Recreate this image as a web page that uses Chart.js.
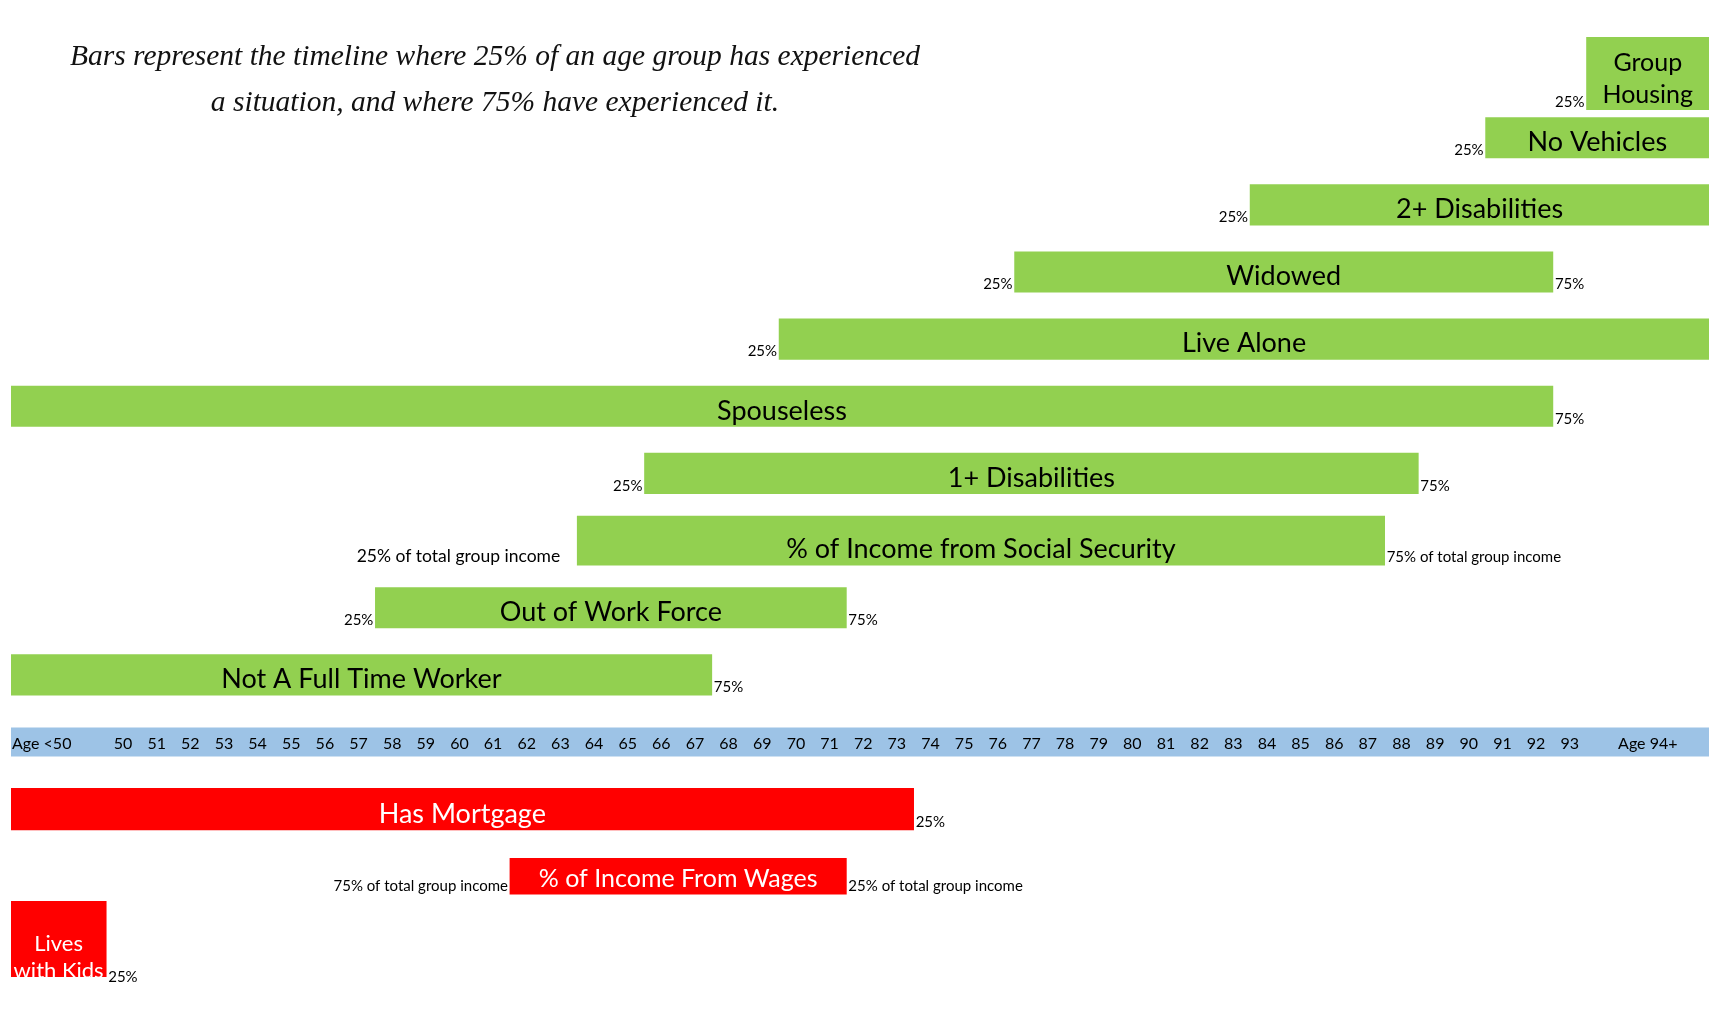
<!DOCTYPE html>
<html><head><meta charset="utf-8">
<script src="https://cdn.jsdelivr.net/npm/chart.js@4.4.1/dist/chart.umd.min.js"></script>
<style>
html,body{margin:0;padding:0;background:#fff;}
#wrap{position:relative;width:1717px;height:1016px;overflow:hidden;background:#fff;}
#c{position:absolute;left:0;top:0;}
#title{position:absolute;left:0;width:990px;top:32px;text-align:center;font-family:"Liberation Serif",serif;font-style:italic;font-size:29.5px;line-height:46px;color:#111;}
</style></head><body>
<div id="wrap"><canvas id="c" width="1717" height="1016"></canvas>
<div id="title">Bars represent the timeline where 25% of an age group has experienced<br>a situation, and where 75% have experienced it.</div></div>
<script>
// ---- age axis (tick labels) ----
const ageLabels = ['Age <50','50','51','52','53','54','55','56','57','58','59','60','61','62','63','64','65','66','67','68','69','70','71','72','73','74','75','76','77','78','79','80','81','82','83','84','85','86','87','88','89','90','91','92','93','Age 94+'];

// ---- situations that grow with age (green, above the axis) ----
const situations = ['Group Housing','No Vehicles','2+ Disabilities','Widowed','Live Alone','Spouseless','1+ Disabilities','% of Income from Social Security','Out of Work Force','Not A Full Time Worker'];
const situationStart = ['Age 94+','91','84','77','70','Age <50','66','64','58','Age <50'];
const situationEnd   = ['Age 94+','Age 94+','Age 94+','92','Age 94+','92','88','87','71','67'];
const situationStartNote = ['25%','25%','25%','25%','25%','','25%','25% of total group income','25%',''];
const situationEndNote   = ['','','','75%','','75%','75%','75% of total group income','75%','75%'];

// ---- situations that fade with age (red, below the axis) ----
const declines = ['Has Mortgage','% of Income From Wages','Lives with Kids'];
const declineStart = ['Age <50','62','Age <50'];
const declineEnd   = ['73','71','Age <50'];
const declineStartNote = ['','75% of total group income',''];
const declineEndNote   = ['25%','25% of total group income','25%'];

// ---- scale bounds of the open-ended bins ----
const AXIS_MIN = 47.17, AXIS_MAX = 97.64;
function cellStart(l){ if(l==='Age <50') return AXIS_MIN; if(l==='Age 94+') return 94; return Number(l); }
function cellEnd(l){ if(l==='Age <50') return 50; if(l==='Age 94+') return AXIS_MAX; return Number(l)+1; }

// ---- styles ----
const GREEN = '#92D050', RED = '#FF0000', BLUE = '#9DC3E6';
const AXIS_ROW = 'Age';
const wrapText = {'Group Housing':['Group','Housing'], 'Lives with Kids':['Lives','with Kids']};
const thickStyle = {'Group Housing':78, '% of Income from Social Security':49, 'Has Mortgage':41.6, '% of Income From Wages':36, 'Lives with Kids':84};
const fontStyle = {'Group Housing':25, '% of Income From Wages':25, 'Lives with Kids':22};
const noteStyle = {'% of Income from Social Security':{startSize:17.5,startGap:17}};
const FONT = 'Lato';

const rows = [...situations, AXIS_ROW, ...declines];

const datasets = [];
situations.forEach((s,i)=>{
  datasets.push({label:s, data:[{y:s, x:[cellStart(situationStart[i]), cellEnd(situationEnd[i])]}],
    backgroundColor:GREEN, barThickness: thickStyle[s]||40.5,
    info:{name:s, startNote:situationStartNote[i], endNote:situationEndNote[i], color:'#000'}});
});
datasets.push({label:'axis', data:[{y:AXIS_ROW, x:[cellStart(ageLabels[0]), cellEnd(ageLabels[ageLabels.length-1])]}],
  backgroundColor:BLUE, barThickness:28.5});
declines.forEach((s,i)=>{
  datasets.push({label:s, data:[{y:s, x:[cellStart(declineStart[i]), cellEnd(declineEnd[i])]}],
    backgroundColor:RED, barThickness: thickStyle[s]||40.5,
    info:{name:s, startNote:declineStartNote[i], endNote:declineEndNote[i], color:'#fff'}});
});

const textPlugin = {
  id:'textPlugin',
  afterDatasetsDraw(chart){
    const ctx = chart.ctx, xs = chart.scales.x, ys = chart.scales.y;
    ctx.save();
    // axis labels
    const ay = ys.getPixelForValue(rows.indexOf(AXIS_ROW));
    ctx.font = '16px '+FONT; ctx.fillStyle = '#000'; ctx.textBaseline = 'middle';
    ageLabels.forEach((lab,i)=>{
      if(i===0){ ctx.textAlign='left'; ctx.fillText(lab, xs.getPixelForValue(cellStart(lab))+1, ay+2); }
      else { ctx.textAlign='center'; ctx.fillText(lab, xs.getPixelForValue((cellStart(lab)+cellEnd(lab))/2), ay+2); }
    });
    // bar texts
    chart.data.datasets.forEach((ds,di)=>{
      if(!ds.info) return;
      const el = chart.getDatasetMeta(di).data[0];
      const p = el.getProps(['x','y','base','height'], true);
      const left = Math.min(p.x,p.base), right = Math.max(p.x,p.base);
      const bottom = p.y + p.height/2;
      const name = ds.info.name;
      const lines = wrapText[name] || [name];
      const fs = fontStyle[name] || 27;
      ctx.font = fs+'px '+FONT; ctx.fillStyle = ds.info.color; ctx.textAlign='center'; ctx.textBaseline='alphabetic';
      const lh = fs*1.25;
      lines.forEach((ln,k)=>{ ctx.fillText(ln, (left+right)/2, bottom-7-(lines.length-1-k)*lh); });
      const ns = noteStyle[name] || {};
      ctx.fillStyle = '#000';
      if(ds.info.startNote){
        ctx.font = (ns.startSize||15)+'px '+FONT; ctx.textAlign='right';
        ctx.fillText(ds.info.startNote, left-(ns.startGap||2), bottom-3);
      }
      if(ds.info.endNote){
        ctx.font = '15px '+FONT; ctx.textAlign='left';
        ctx.fillText(ds.info.endNote, right+2, bottom-3);
      }
    });
    ctx.restore();
  }
};

new Chart(document.getElementById('c'), {
  type:'bar',
  data:{labels:rows, datasets},
  options:{
    indexAxis:'y', responsive:false, animation:false, devicePixelRatio:1,
    layout:{padding:{left:11, right:8, top:37, bottom:39}},
    scales:{
      x:{type:'linear', min:AXIS_MIN, max:AXIS_MAX, display:false, stacked:false},
      y:{type:'category', display:false, stacked:true, offset:true}
    },
    plugins:{legend:{display:false}, tooltip:{enabled:false}},
    datasets:{bar:{borderWidth:0, borderSkipped:false}}
  },
  plugins:[textPlugin]
});
</script>
</body></html>
